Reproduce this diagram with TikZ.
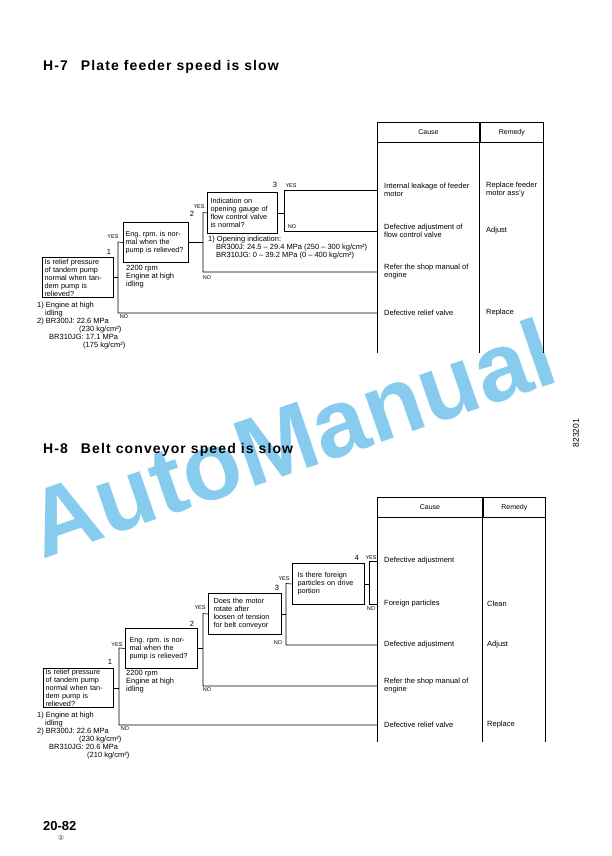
\documentclass[tikz,border=0pt]{standalone}
\usepackage{fontspec}
\setmainfont{Liberation Sans}
\newfontfamily\titlefont[LetterSpace=8]{Liberation Sans}
\newfontfamily\symfont{DejaVu Sans}
\usetikzlibrary{positioning}
\definecolor{markblue}{RGB}{135,203,238}
\frenchspacing

\newcommand{\boxfont}{\fontsize{7.3}{8}\selectfont\hyphenpenalty=10000}
\newcommand{\notefont}{\fontsize{7.5}{8}\selectfont}

\begin{document}
\begin{tikzpicture}[x=1pt, y=-1pt,
  qbox/.style={draw, line width=1pt, anchor=north west, align=left, inner xsep=2pt, inner ysep=0pt, minimum height=40pt, font=\boxfont},
  note/.style={anchor=north west, align=left, inner sep=0pt, font=\notefont},
  cause/.style={anchor=west, align=left, inner sep=0pt, font=\notefont},
  yn/.style={inner sep=0pt, font=\fontsize{5.5}{6}\selectfont},
  num/.style={inner sep=0pt, font=\fontsize{7.5}{8}\selectfont},
  head/.style={draw, line width=0.9pt, anchor=north west, inner sep=0pt, minimum height=20pt, font=\fontsize{7}{8}\selectfont},
  wire/.style={line width=0.6pt},
  rule/.style={line width=0.9pt},
  title/.style={anchor=base west, inner sep=0pt, font=\titlefont\fontsize{14}{16}\selectfont\bfseries},
]
\useasboundingbox (0,0) rectangle (612,856);

% watermark
\node[rotate=19, anchor=base, text=markblue, inner sep=0pt, font=\fontsize{96}{104}\selectfont\bfseries] (mark) at (302,470) {AutoManual};

% ---------------- H-7 ----------------
\node[title] (t7) at (43,71) {H-7\hspace{13pt}Plate feeder speed is slow};

\node[head, minimum width=102pt] (hc7) at (377,122) {Cause};
\node[head, minimum width=63pt] (hr7) at (hc7.north east) {Remedy};
\coordinate (bot7) at (0,353);
\coordinate (tl7) at (hc7.south west);
\draw[rule] (hc7.south west) -- (hc7.south west |- bot7);
\draw[rule] (hc7.south east) -- (hc7.south east |- bot7);
\draw[rule] (hr7.south east) -- (hr7.south east |- bot7);

\node[qbox, text width=67pt] (a1) at (42,257) {Is relief pressure\\of tandem pump\\normal when tan-\\dem pump is\\relieved?};
\node[qbox, text width=61pt] (a2) at (123,222) {Eng. rpm. is nor-\\mal when the\\pump is relieved?};
\node[qbox, inner xsep=3pt, text width=64pt, minimum height=41pt] (a3) at (207,192) {Indication on\\opening gauge of\\flow control valve\\is normal?};

\node[note] (n1) at (37,301.5) {1) Engine at high\\\hspace*{8pt}idling\\2) BR300J: 22.6 MPa\\\hspace*{42pt}(230 kg/cm²)\\\hspace*{12pt}BR310JG: 17.1 MPa\\\hspace*{46pt}(175 kg/cm²)};
\node[note] (n2) at (126,265.5) {2200 rpm\\Engine at high\\idling};
\node[note] (n3) at (208,235.5) {1) Opening indication:\\\hspace*{8pt}BR300J: 24.5 – 29.4 MPa (250 – 300 kg/cm²)\\\hspace*{8pt}BR310JG: 0 – 39.2 MPa (0 – 400 kg/cm²)};

\node[cause] (k1) at (384,190) {Internal leakage of feeder\\motor};
\node[cause] (k2) at (384,231) {Defective adjustment of\\flow control valve};
\node[cause] (k3) at (384,272) {Refer the shop manual of\\engine};
\node[cause] (k4) at (384,313) {Defective relief valve};
\node[cause] (r1) at (486,190) {Replace feeder\\motor ass'y};
\node[cause] (r2) at (486,231) {Adjust};
\node[cause] (r4) at (486,313) {Replace};

\coordinate (a1y) at (118,242);
\coordinate (a1n) at (118,313);
\coordinate (a2y) at (203,212.5);
\coordinate (a2n) at (203,272);
\coordinate (a3y) at (284,190);
\coordinate (a3n) at (284,231);

\draw[wire] (a1.east) -- (a1.east -| a1y);
\draw[wire] (a2.west) -- (a1y) -- (a1n) -- (k4.west -| tl7);
\draw[wire] (a2.east) -- (a2.east -| a2y);
\draw[wire] (a3.west) -- (a2y) -- (a2n) -- (k3.west -| tl7);
\draw[wire] (a3.east) -- (a3.east -| a3y);
\draw[wire] (k1.west -| tl7) -- (a3y) -- (a3n) -- (k2.west -| tl7);

\node[num] (l1) at (109,252) {1};
\node[yn] (y1) at (113,237) {YES};
\node[yn] (o1) at (124,317) {NO};
\node[num] (l2) at (192,214) {2};
\node[yn] (y2) at (199,207) {YES};
\node[yn] (o2) at (207,278) {NO};
\node[num] (l3) at (275,185) {3};
\node[yn] (y3) at (291,185.5) {YES};
\node[yn] (o3) at (292,227) {NO};

% ---------------- H-8 ----------------
\node[title] (t8) at (43,453) {H-8\hspace{13pt}Belt conveyor speed is slow};

\node[head, minimum width=105pt] (hc8) at (377,497) {Cause};
\node[head, minimum width=62pt] (hr8) at (hc8.north east) {Remedy};
\coordinate (bot8) at (0,742);
\coordinate (tl8) at (hc8.south west);
\draw[rule] (hc8.south west) -- (hc8.south west |- bot8);
\draw[rule] (hc8.south east) -- (hc8.south east |- bot8);
\draw[rule] (hr8.south east) -- (hr8.south east |- bot8);

\node[qbox, text width=66pt, minimum height=39pt] (b1) at (43,668) {Is relief pressure\\of tandem pump\\normal when tan-\\dem pump is\\relieved?};
\node[qbox, inner xsep=4pt, text width=64pt] (b2) at (125,628) {Eng. rpm. is nor-\\mal when the\\pump is relieved?};
\node[qbox, inner xsep=5pt, text width=63pt, minimum height=41pt] (b3) at (208,593) {Does the motor\\rotate after\\loosen of tension\\for belt conveyor};
\node[qbox, inner xsep=5pt, text width=62pt, minimum height=41pt] (b4) at (292,563) {Is there foreign\\particles on drive\\portion};

\node[note] (m1) at (37,711.5) {1) Engine at high\\\hspace*{8pt}idling\\2) BR300J: 22.6 MPa\\\hspace*{42pt}(230 kg/cm²)\\\hspace*{12pt}BR310JG: 20.6 MPa\\\hspace*{50pt}(210 kg/cm²)};
\node[note] (m2) at (126,670.5) {2200 rpm\\Engine at high\\idling};

\node[cause] (c1) at (384,561) {Defective adjustment};
\node[cause] (c2) at (384,604) {Foreign particles};
\node[cause] (c3) at (384,645) {Defective adjustment};
\node[cause] (c4) at (384,686) {Refer the shop manual of\\engine};
\node[cause] (c5) at (384,725) {Defective relief valve};
\node[cause] (s2) at (487,604) {Clean};
\node[cause] (s3) at (487,645) {Adjust};
\node[cause] (s5) at (487,725) {Replace};

\coordinate (b1y) at (119,648);
\coordinate (b1n) at (119,725);
\coordinate (b2y) at (203,613.5);
\coordinate (b2n) at (203,686);
\coordinate (b3y) at (286,583.5);
\coordinate (b3n) at (286,645);
\coordinate (b4y) at (369,561);
\coordinate (b4n) at (369,604);

\draw[wire] (b1.east) -- (b1.east -| b1y);
\draw[wire] (b2.west) -- (b1y) -- (b1n) -- (c5.west -| tl8);
\draw[wire] (b2.east) -- (b2.east -| b2y);
\draw[wire] (b3.west) -- (b2y) -- (b2n) -- (c4.west -| tl8);
\draw[wire] (b3.east) -- (b3.east -| b3y);
\draw[wire] (b4.west) -- (b3y) -- (b3n) -- (c3.west -| tl8);
\draw[wire] (b4.east) -- (b4.east -| b4y);
\draw[wire] (c1.west -| tl8) -- (b4y) -- (b4n) -- (c2.west -| tl8);

\node[num] (p1) at (110,662) {1};
\node[yn] (v1) at (117,645) {YES};
\node[yn] (w1) at (125,729) {NO};
\node[num] (p2) at (192,624) {2};
\node[yn] (v2) at (200,608) {YES};
\node[yn] (w2) at (207,690) {NO};
\node[num] (p3) at (277,588) {3};
\node[yn] (v3) at (284,579) {YES};
\node[yn] (w3) at (278,643) {NO};
\node[num] (p4) at (357,558) {4};
\node[yn] (v4) at (371,558) {YES};
\node[yn] (w4) at (371,609) {NO};

% page marks
\node[anchor=base west, inner sep=0pt, font=\fontsize{13}{15}\selectfont\bfseries] (pg) at (43,830) {20-82};
\node[inner sep=0pt, text=darkgray, font=\symfont\fontsize{7}{8}\selectfont] (ed) at (61,838) {②};
\node[rotate=90, inner sep=0pt, font=\fontsize{8.5}{10}\selectfont] (fig) at (576,433) {823201};
\end{tikzpicture}
\end{document}
